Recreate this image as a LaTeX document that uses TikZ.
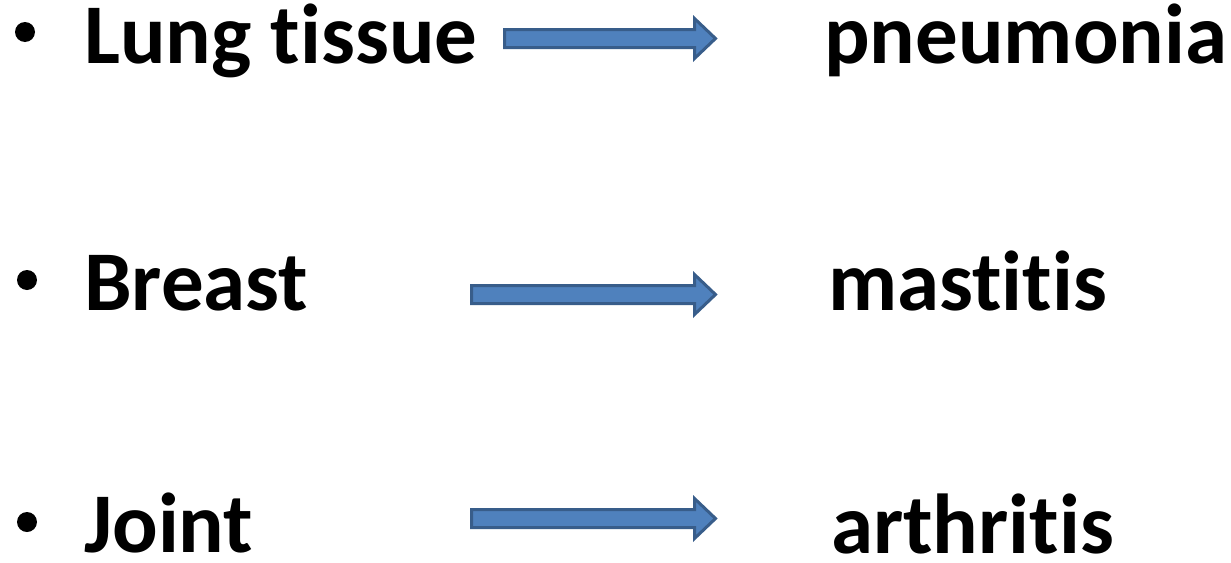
\documentclass[tikz,border=0pt]{standalone}
\usepackage{fontspec}
\setmainfont{Carlito}[Ligatures=NoCommon]
\definecolor{arrowfill}{HTML}{4F81BD}
\definecolor{arrowline}{HTML}{385D8A}
\tikzset{
  label/.style={inner sep=0pt, anchor=base west, text depth=0pt, font=\fontsize{85}{100}\selectfont\bfseries},
  bulletdot/.style={circle, fill=black, inner sep=0pt, minimum size=20pt},
  blockarrow/.style={fill=arrowfill, draw=arrowline, line width=3pt, line join=miter}
}
\newcommand{\myblockarrow}[2]{% left x, centre y
  \draw[blockarrow] (#1,#2-9) -- (694.5,#2-9) -- (694.5,#2-20) -- (715.5,#2)
    -- (694.5,#2+20) -- (694.5,#2+9) -- (#1,#2+9) -- cycle;}
\begin{document}
\begin{tikzpicture}[x=1pt,y=-1pt]
\useasboundingbox (0,0) rectangle (1231,562);
\node[bulletdot] (b1) at (25,32) {};
\node[bulletdot] (b2) at (27,280) {};
\node[bulletdot] (b3) at (27,522) {};
\node[label] (lung) at (84,63) {Lung tissue};
\node[label] (breast) at (84,310) {Breast};
\node[label] (joint) at (84,552) {Joint};
\node[label] (pneu) at (824,63) {pneumonia};
\node[label] (mast) at (828,310) {mastitis};
\node[label] (arth) at (831,553) {arthritis};
\myblockarrow{504.5}{38.5}
\myblockarrow{471.5}{294.5}
\myblockarrow{471.5}{518.5}
\end{tikzpicture}
\end{document}
